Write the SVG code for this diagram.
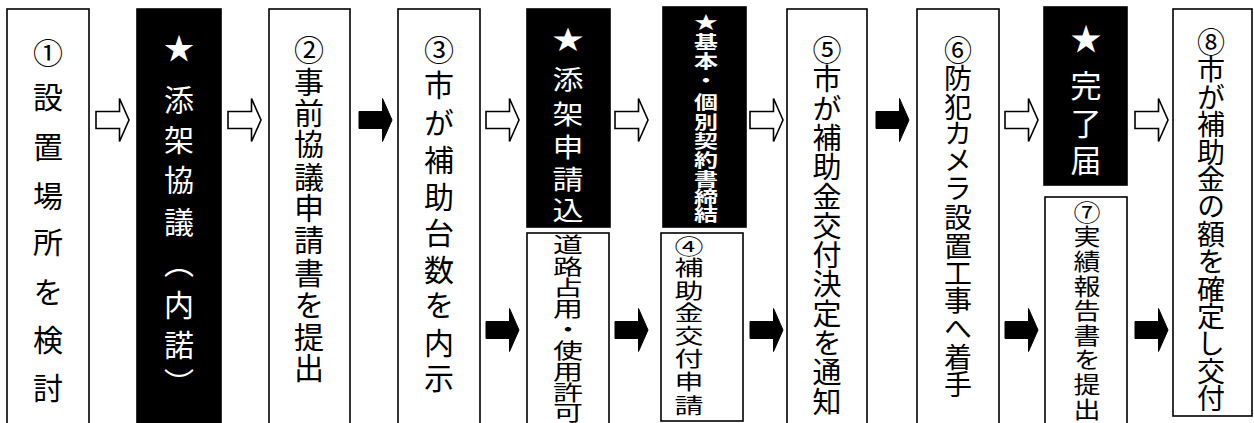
<svg xmlns="http://www.w3.org/2000/svg" xmlns:xlink="http://www.w3.org/1999/xlink" width="1254" height="423" viewBox="0 0 1254 423">
<style>
.box{fill:#fff;stroke:#000;stroke-width:1.6}
.blk{fill:#000;stroke:#000;stroke-width:1.6}
.v{writing-mode:vertical-rl;text-anchor:middle;font-family:"Noto Sans CJK JP","Noto Sans CJK SC",sans-serif;fill:#000}
.w{fill:#fff}
.ao{fill:#fff;stroke:#000;stroke-width:1.6;stroke-linejoin:miter}
.af{fill:#000;stroke:#000;stroke-width:1}
</style>
<defs>
<path id="arr" d="M0,-8.5 H23.5 V-21.5 L33,0 L23.5,21.5 V8.5 H0 Z"/>
</defs>
<rect width="1254" height="423" fill="#fff"/>
<g id="n1">
<rect class="box" x="7" y="9" width="82" height="425"/>
<text class="v" font-size="30" x="48" y="53 97 147 196 242 292 340 388">①設置場所を検討</text>
</g>
<g id="n2">
<rect class="blk" x="137" y="9" width="84" height="425"/>
<text class="v w" font-size="30" x="179" y="48 100 140 180 222 263 305 345 383">★添架協議（内諾）</text>
</g>
<g id="n3">
<rect class="box" x="269" y="9" width="81" height="425"/>
<text class="v" font-size="30" x="309" y="50 82 113 144 177 208 240 273 305 337 368">②事前協議申請書を提出</text>
</g>
<g id="n4">
<rect class="box" x="398" y="9" width="82" height="425"/>
<text class="v" font-size="30" x="439" y="50 85 123 160 197 233 270 305 343 378">③市が補助台数を内示</text>
</g>
<g id="n5">
<rect class="blk" x="527" y="9" width="83" height="218"/>
<text class="v w" font-size="31" transform="matrix(1 0 0 0.85 0 0)" x="568" y="45.9 92.9 134.1 172.9 210.6 247.1">★添架申請込</text>
</g>
<g id="n6">
<rect class="blk" x="663" y="7" width="83" height="220"/>
<text class="v w" font-size="24" font-weight="bold" transform="matrix(1 0 0 0.74 0 0)" x="706" y="29.7 56.8 82.4 108.1 137.8 164.9 190.5 216.2 241.9 266.2 289.2">★基本・個別契約書締結</text>
</g>
<g id="n7">
<rect class="box" x="527" y="233" width="82" height="200"/>
<text class="v" font-size="30" transform="matrix(1 0 0 0.7 0 0)" x="568" y="348.6 379.6 410.6 440.6 470.6 500.6 530.6 560.6 589">道路占用・使用許可</text>
</g>
<g id="n8">
<rect class="box" x="661" y="233" width="82" height="188"/>
<text class="v" font-size="29" transform="matrix(1 0 0 0.72 0 0)" x="689" y="341.7 370.8 402.8 433.3 465.3 497.2 529.2 562.5">④補助金交付申請</text>
</g>
<g id="n9">
<rect class="box" x="787" y="9" width="80" height="425"/>
<text class="v" font-size="29" x="827" y="50 79 109 138 167 197 226 255 284 314 343 372 402">⑤市が補助金交付決定を通知</text>
</g>
<g id="n10">
<rect class="box" x="917" y="9" width="82" height="425"/>
<text class="v" font-size="28" x="958" y="50 78 107 133 160 188 217 246 273 300 328 357 384">⑥防犯カメラ設置工事へ着手</text>
</g>
<g id="n11">
<rect class="blk" x="1044" y="7" width="83" height="178"/>
<text class="v w" font-size="31" x="1086" y="38 85 123 160">★完了届</text>
</g>
<g id="n12">
<rect class="box" x="1045" y="197" width="82" height="240"/>
<text class="v" font-size="27" transform="matrix(1 0 0 0.86 0 0)" x="1087" y="246.5 275 303.7 332.3 360.9 389.5 418 446.7 475.4">⑦実績報告書を提出</text>
</g>
<g id="n13">
<rect class="box" x="1173" y="9" width="79" height="407"/>
<text class="v" font-size="28" x="1211" y="42 69 97 124 152 179 206 234 261 289 316 343 371 398">⑧市が補助金の額を確定し交付</text>
</g>
<g id="connectors">
<use xlink:href="#arr" class="ao" transform="translate(96,120)"/>
<use xlink:href="#arr" class="ao" transform="translate(228,120)"/>
<use xlink:href="#arr" class="af" transform="translate(359,120)"/>
<use xlink:href="#arr" class="ao" transform="translate(486,120)"/>
<use xlink:href="#arr" class="af" transform="translate(486,330)"/>
<use xlink:href="#arr" class="ao" transform="translate(615,120)"/>
<use xlink:href="#arr" class="af" transform="translate(615,330)"/>
<use xlink:href="#arr" class="ao" transform="translate(750,120)"/>
<use xlink:href="#arr" class="af" transform="translate(750,330)"/>
<use xlink:href="#arr" class="af" transform="translate(876,120)"/>
<use xlink:href="#arr" class="ao" transform="translate(1005,120)"/>
<use xlink:href="#arr" class="af" transform="translate(1005,330)"/>
<use xlink:href="#arr" class="ao" transform="translate(1135,120)"/>
<use xlink:href="#arr" class="af" transform="translate(1135,330)"/>
</g>
</svg>
